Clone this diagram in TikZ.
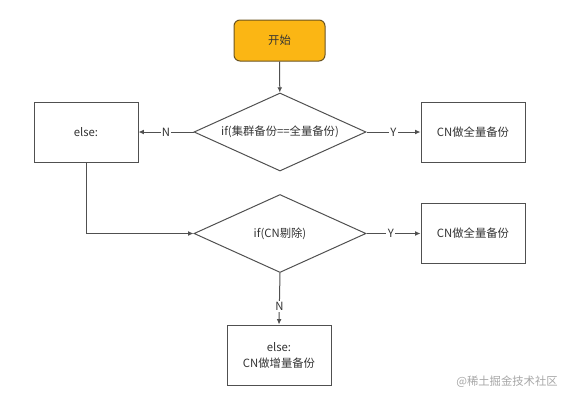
\documentclass[tikz,border=0pt]{standalone}
\usepackage{fontspec}
\setmainfont{Noto Sans CJK SC}
\usetikzlibrary{shapes.geometric,arrows.meta}
\definecolor{startfill}{HTML}{FBB614}
\definecolor{startdraw}{HTML}{6B5420}
\definecolor{linec}{HTML}{505050}
\definecolor{txt}{HTML}{333333}
\tikzset{
  base/.style={font=\fontsize{8.5pt}{12pt}\selectfont, text=txt, inner sep=0pt, align=center},
  startbox/.style={base, rounded corners=4.5pt, draw=startdraw, fill=startfill, line width=0.75pt, minimum width=68.25pt, minimum height=30.75pt},
  decide/.style={base, diamond, draw=linec, line width=0.75pt, minimum width=129pt, minimum height=58.5pt, aspect=2.2},
  procbox/.style={base, rectangle, draw=linec, line width=0.75pt, minimum width=78pt, minimum height=45pt},
  conn/.style={draw=linec, line width=0.75pt, -{Latex[length=4pt,width=3.6pt]}},
  lab/.style={base, fill=white, inner sep=1pt}
}
\begin{document}
\begin{tikzpicture}[x=0.75pt, y=-0.75pt]
\useasboundingbox (0,0) rectangle (572,400);
\node[startbox] (start) at (279.5,40.5) {开始};
\node[decide] (d1) at (280,132) {if(集群备份==全量备份)};
\node[procbox] (else1) at (86,132) {else:};
\node[procbox] (r1) at (473,132) {CN做全量备份};
\node[decide] (d2) at (280,233.5) {if(CN剔除)};
\node[procbox] (r2) at (473,233.5) {CN做全量备份};
\node[procbox] (b) at (279,355) {else:\\CN做增量备份};
\node[base, text=gray!70] (wm) at (507,382) {@稀土掘金技术社区};
\draw[conn] (start) -- (d1);
\draw[conn] (d1.west) -- node[lab] {N} (else1.east);
\draw[conn] (d1.east) -- node[lab] {Y} (r1.west);
\draw[conn] (else1.south) |- (d2.west);
\draw[conn] (d2.east) -- node[lab, pos=0.45] {Y} (r2.west);
\draw[conn] (d2.south) -- node[lab, pos=0.65] {N} (b.north);
\end{tikzpicture}
\end{document}
